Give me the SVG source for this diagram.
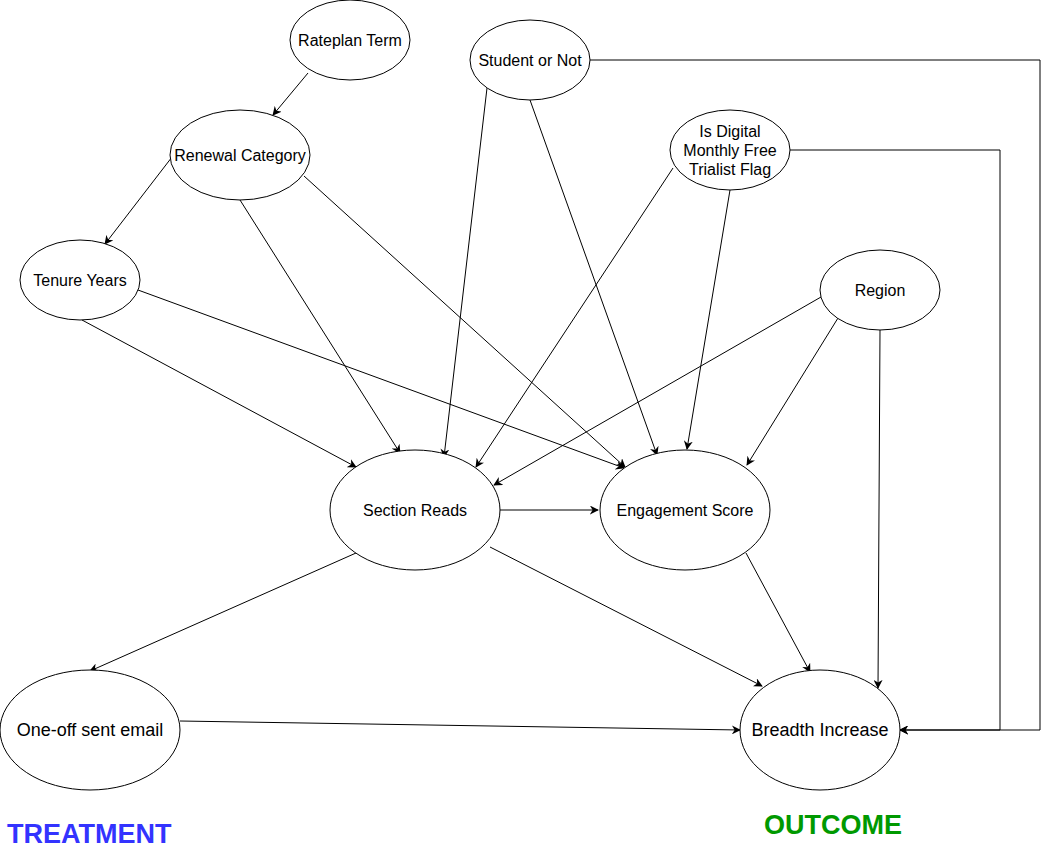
<svg xmlns="http://www.w3.org/2000/svg" width="1049" height="852" viewBox="0 0 1049 852">
<defs>
<marker id="arr" viewBox="0 0 10 10" refX="9" refY="5" markerWidth="9" markerHeight="9" markerUnits="userSpaceOnUse" orient="auto">
<path d="M0,0 L10,5 L0,10 L3,5 Z" fill="#000"/>
</marker>
<style>
.n{fill:#fff;stroke:#000;stroke-width:1}
.t{font-family:"Liberation Sans",Arial,sans-serif;font-size:16px;fill:#000;text-anchor:middle}
.e{fill:none;stroke:#000;stroke-width:1;marker-end:url(#arr)}
</style>
</defs>
<rect width="1049" height="852" fill="#fff"/>
<g id="connectors">
<line class="e" x1="308" y1="73" x2="273" y2="115"/>
<line class="e" x1="172" y1="157" x2="105" y2="244"/>
<line class="e" x1="240" y1="200" x2="400" y2="453"/>
<line class="e" x1="304" y1="176" x2="625" y2="467"/>
<line class="e" x1="487" y1="88" x2="444" y2="457"/>
<line class="e" x1="530" y1="100" x2="657" y2="455"/>
<polyline class="e" points="590,60 1040,60 1040,730 900,730"/>
<line class="e" x1="673" y1="168" x2="476" y2="467"/>
<line class="e" x1="730" y1="190" x2="687" y2="449"/>
<polyline class="e" points="790,150 1000,150 1000,730 900,730"/>
<line class="e" x1="82" y1="320" x2="356" y2="467"/>
<line class="e" x1="138" y1="290" x2="624" y2="468"/>
<line class="e" x1="821" y1="297" x2="494" y2="485"/>
<line class="e" x1="838" y1="318" x2="747" y2="465"/>
<line class="e" x1="880" y1="330" x2="878" y2="688"/>
<line class="e" x1="500" y1="510" x2="598" y2="510"/>
<line class="e" x1="356" y1="553" x2="90" y2="671"/>
<line class="e" x1="490" y1="547" x2="762" y2="686"/>
<line class="e" x1="746" y1="553" x2="810" y2="672"/>
<line class="e" x1="180" y1="721" x2="740" y2="730"/>
</g>
<g id="rateplan"><ellipse class="n" cx="350" cy="40" rx="60" ry="40"/><text class="t" x="350" y="46">Rateplan Term</text></g>
<g id="student"><ellipse class="n" cx="530" cy="60" rx="60" ry="40"/><text class="t" x="530" y="66">Student or Not</text></g>
<g id="renewal"><ellipse class="n" cx="240" cy="155" rx="70" ry="45"/><text class="t" x="240" y="161">Renewal Category</text></g>
<g id="digital"><ellipse class="n" cx="730" cy="150" rx="60" ry="40"/><text class="t" x="730" y="137">Is Digital</text><text class="t" x="730" y="156">Monthly Free</text><text class="t" x="730" y="175">Trialist Flag</text></g>
<g id="tenure"><ellipse class="n" cx="80" cy="280" rx="60" ry="40"/><text class="t" x="80" y="286">Tenure Years</text></g>
<g id="region"><ellipse class="n" cx="880" cy="290" rx="60" ry="40"/><text class="t" x="880" y="296">Region</text></g>
<g id="section"><ellipse class="n" cx="415" cy="510" rx="85" ry="60"/><text class="t" x="415" y="516">Section Reads</text></g>
<g id="engagement"><ellipse class="n" cx="685" cy="510" rx="85" ry="60"/><text class="t" x="685" y="516">Engagement Score</text></g>
<g id="email"><ellipse class="n" cx="90" cy="730" rx="90" ry="60"/><text class="t" x="90" y="736" style="font-size:18px">One-off sent email</text></g>
<g id="breadth"><ellipse class="n" cx="820" cy="730" rx="80" ry="60"/><text class="t" x="820" y="736" style="font-size:18px">Breadth Increase</text></g>
<g id="labels">
<text x="7" y="843" style="font-family:'Liberation Sans',Arial,sans-serif;font-size:27px;font-weight:bold;fill:#3333FF">TREATMENT</text>
<text x="764" y="834" style="font-family:'Liberation Sans',Arial,sans-serif;font-size:27px;font-weight:bold;fill:#009900">OUTCOME</text>
</g>
</svg>
